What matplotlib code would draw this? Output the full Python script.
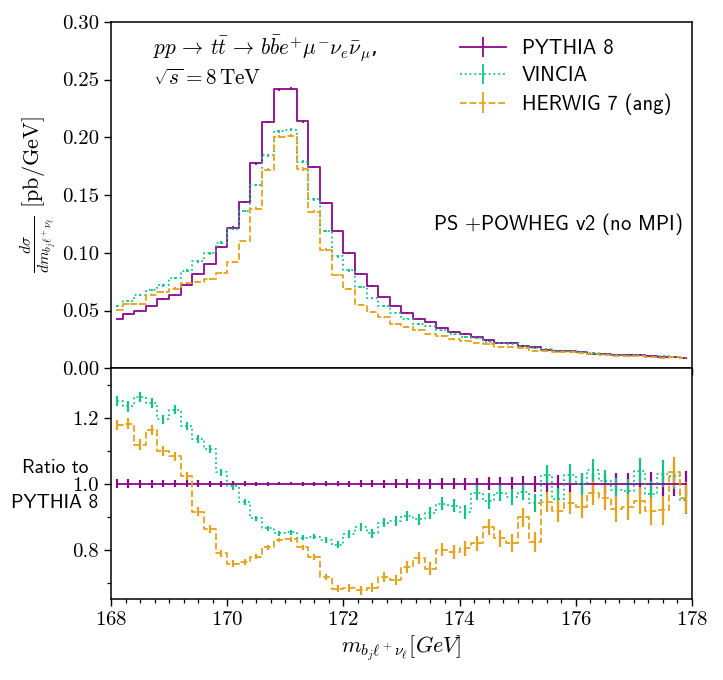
import numpy as np
import matplotlib
matplotlib.use("Agg")
import matplotlib.pyplot as plt
from matplotlib.ticker import MultipleLocator

plt.rcParams["mathtext.fontset"] = "cm"
plt.rcParams["axes.formatter.use_mathtext"] = True
plt.rcParams["axes.unicode_minus"] = False
plt.rcParams["axes.linewidth"] = 1.1

# binning of m_{b_j l nu}
bin_lo = 168.0
bin_hi = 178.0
n_bins = 50

# PYTHIA 8 differential cross section [pb/GeV]
pythia = [0.0428, 0.0471, 0.0500, 0.0543, 0.0600, 0.0637, 0.0720, 0.0815, 0.0900, 0.1050,
          0.1218, 0.1439, 0.1773, 0.2132, 0.2415, 0.2421, 0.2137, 0.1742, 0.1431, 0.1187,
          0.0999, 0.0815, 0.0711, 0.0614, 0.0543, 0.0477, 0.0428, 0.0397, 0.0348, 0.0314,
          0.0296, 0.0268, 0.0242, 0.0222, 0.0222, 0.0196, 0.0182, 0.0162, 0.0153, 0.0148,
          0.0139, 0.0127, 0.0122, 0.0119, 0.0113, 0.0113, 0.0105, 0.0099, 0.0096, 0.0090]

# ratios to PYTHIA 8
ratio_vincia = [1.251, 1.235, 1.264, 1.246, 1.195, 1.225, 1.175, 1.137, 1.106, 1.035,
                0.992, 0.946, 0.895, 0.865, 0.850, 0.853, 0.837, 0.840, 0.830, 0.816,
                0.848, 0.868, 0.850, 0.882, 0.888, 0.902, 0.892, 0.912, 0.940, 0.933,
                0.915, 0.973, 0.948, 0.971, 0.960, 0.976, 0.941, 1.026, 0.955, 1.027,
                1.000, 1.041, 1.007, 0.980, 0.977, 1.040, 0.968, 1.031, 1.025, 0.951]
ratio_herwig = [1.178, 1.182, 1.119, 1.162, 1.098, 1.083, 1.024, 0.916, 0.862, 0.789,
                0.758, 0.764, 0.779, 0.807, 0.830, 0.832, 0.807, 0.779, 0.718, 0.682,
                0.684, 0.677, 0.685, 0.718, 0.708, 0.748, 0.774, 0.743, 0.800, 0.794,
                0.804, 0.820, 0.870, 0.835, 0.820, 0.898, 0.824, 0.945, 0.918, 0.941,
                0.931, 0.972, 0.958, 0.924, 0.929, 0.949, 0.918, 0.920, 1.036, 0.958]

# relative statistical errors (half width)
err_pythia = [0.013, 0.013, 0.012, 0.012, 0.011, 0.011, 0.010, 0.010, 0.009, 0.009,
              0.008, 0.007, 0.006, 0.006, 0.005, 0.005, 0.006, 0.006, 0.007, 0.008,
              0.009, 0.010, 0.011, 0.012, 0.013, 0.014, 0.015, 0.015, 0.016, 0.017,
              0.018, 0.019, 0.020, 0.021, 0.022, 0.023, 0.025, 0.026, 0.027, 0.028,
              0.029, 0.030, 0.031, 0.032, 0.033, 0.034, 0.035, 0.036, 0.037, 0.038]
err_vincia = [0.016, 0.016, 0.015, 0.015, 0.014, 0.014, 0.013, 0.012, 0.012, 0.011,
              0.010, 0.009, 0.008, 0.007, 0.007, 0.007, 0.007, 0.008, 0.009, 0.010,
              0.011, 0.012, 0.013, 0.014, 0.015, 0.016, 0.017, 0.018, 0.019, 0.020,
              0.021, 0.022, 0.023, 0.024, 0.025, 0.026, 0.028, 0.030, 0.031, 0.032,
              0.033, 0.034, 0.035, 0.036, 0.037, 0.038, 0.039, 0.040, 0.041, 0.042]
err_herwig = [0.016, 0.016, 0.016, 0.015, 0.015, 0.014, 0.013, 0.013, 0.012, 0.011,
              0.010, 0.009, 0.008, 0.008, 0.007, 0.007, 0.008, 0.009, 0.010, 0.011,
              0.012, 0.013, 0.014, 0.015, 0.016, 0.017, 0.018, 0.019, 0.020, 0.021,
              0.022, 0.023, 0.024, 0.026, 0.027, 0.028, 0.030, 0.031, 0.033, 0.034,
              0.035, 0.036, 0.038, 0.039, 0.040, 0.041, 0.043, 0.044, 0.046, 0.047]

labels = ["PYTHIA 8", "VINCIA", "HERWIG 7 (ang)"]
colors = ["#8b0a8b", "#13c384", "#e6a21c"]
styles = ["-", ":", "--"]

edges = np.linspace(bin_lo, bin_hi, n_bins + 1)
centers = 0.5 * (edges[1:] + edges[:-1])

pythia = np.array(pythia)
ratios = [np.ones(n_bins), np.array(ratio_vincia), np.array(ratio_herwig)]
errs = [np.array(err_pythia), np.array(err_vincia), np.array(err_herwig)]

fig = plt.figure(figsize=(7.23, 6.8), dpi=100)
gs = fig.add_gridspec(2, 1, height_ratios=[3, 2], hspace=0,
                      left=0.1535, right=0.957, top=0.968, bottom=0.1187)
ax = fig.add_subplot(gs[0])
axr = fig.add_subplot(gs[1], sharex=ax)

for r, e, lab, c, ls in zip(ratios, errs, labels, colors, styles):
    vals = pythia * r
    ax.errorbar(centers, vals, yerr=vals * e, drawstyle="steps-mid", ls=ls,
                color=c, lw=1.3, elinewidth=1.3, label=lab)
    axr.errorbar(centers, r, yerr=e, drawstyle="steps-mid", ls=ls,
                 color=c, lw=1.3, elinewidth=1.6)

ax.set_xlim(bin_lo, bin_hi)
ax.set_ylim(0, 0.30)
axr.set_ylim(0.65, 1.35)

ax.yaxis.set_major_locator(MultipleLocator(0.05))
ax.xaxis.set_major_locator(MultipleLocator(2))
ax.xaxis.set_minor_locator(MultipleLocator(0.25))
axr.yaxis.set_major_locator(MultipleLocator(0.2))
axr.yaxis.set_minor_locator(MultipleLocator(0.1))
ax.yaxis.set_major_formatter(plt.FormatStrFormatter("%.2f"))
axr.yaxis.set_major_formatter(plt.FormatStrFormatter("%.1f"))
plt.setp(ax.get_xticklabels(), visible=False)

for a in (ax, axr):
    a.tick_params(which="major", length=5, width=1.0, labelsize=15)
    a.tick_params(which="minor", length=3, width=0.9)
    for t in a.get_xticklabels() + a.get_yticklabels():
        t.set_family("cmr10")

ax.set_ylabel(r"$\frac{d\sigma}{dm_{b_j\ell^+\nu_\ell}}$ $[\mathrm{pb/GeV}]$", fontsize=16)
ax.yaxis.set_label_coords(-0.09, 0.5)
# ratio label as two lines with the 1.0 tick label between them
axr.text(-0.0964, 0.545, "Ratio to", transform=axr.transAxes, ha="center",
         va="baseline", fontsize=14, family="cmss10")
axr.text(-0.0964, 0.393, "PYTHIA 8", transform=axr.transAxes, ha="center",
         va="baseline", fontsize=14, family="cmss10")
axr.set_xlabel(r"$m_{b_j\ell^+\nu_\ell} [GeV]$", fontsize=16, labelpad=3)

ax.text(0.072, 0.965,
        r"$pp\,\to\,t\bar{t}\,\to\,b\bar{b}e^{+}\mu^{-}\nu_e\bar{\nu}_\mu$," + "\n"
        + r"$\sqrt{s} = 8\,\mathrm{TeV}$", transform=ax.transAxes,
        ha="left", va="top", fontsize=15.3, linespacing=1.3)
ax.text(0.985, 0.417, r"PS $+$POWHEG v2 (no MPI)", transform=ax.transAxes,
        ha="right", va="center", fontsize=14.8, family="cmss10")

ax.legend(loc="upper right", bbox_to_anchor=(0.979, 0.974), frameon=False,
          prop=dict(family="cmss10", size=14.8), handlelength=2.2,
          handletextpad=0.8, labelspacing=0.4, borderaxespad=0)

fig.savefig("out.png", dpi=100)
